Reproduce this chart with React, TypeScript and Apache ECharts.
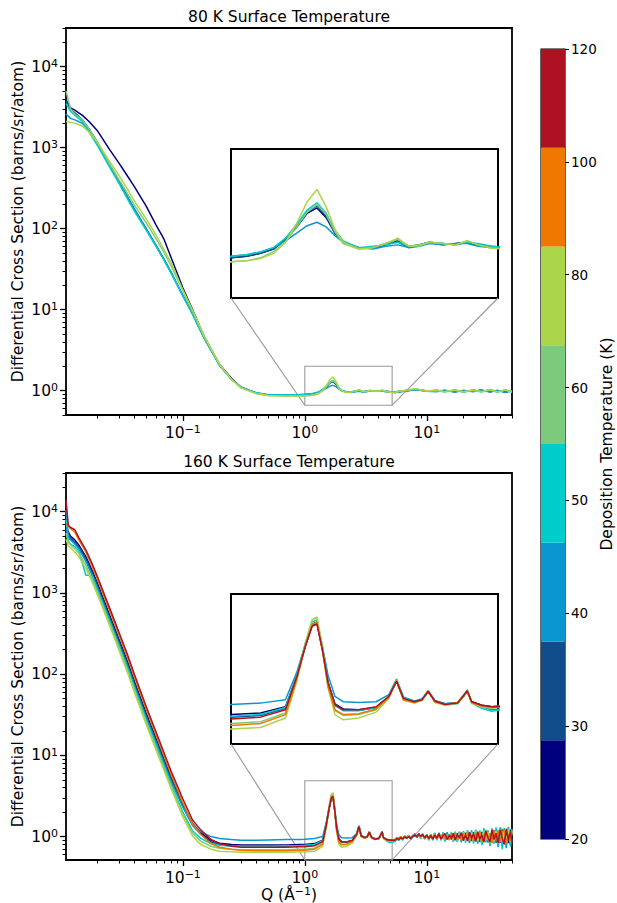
import React, { useEffect, useRef } from 'react';
import * as echarts from 'echarts';

// ---------------- data ----------------
const depositionTemps = [20, 30, 40, 50, 60, 80, 100, 120];
const tempColors = ['#00007f', '#114d8b', '#0a97cf', '#00cccc', '#7ccb7c', '#acd64a', '#f07800', '#ae1121'];
const colorbarTickLabels = ['20', '30', '40', '50', '60', '80', '100', '120'];

const topTitle = '80 K Surface Temperature';
const bottomTitle = '160 K Surface Temperature';
const yTitle = 'Differential Cross Section (barns/sr/atom)';
const cbTitle = 'Deposition Temperature (K)';

// Q grid, 80 K surface panel
const qTop = [
  0.011, 0.012, 0.013, 0.015, 0.017, 0.02, 0.025, 0.03, 0.035, 0.04,
  0.05, 0.06, 0.07, 0.08, 0.1, 0.12, 0.15, 0.2, 0.25, 0.3,
  0.4, 0.5, 0.7, 0.9, 1.0, 1.1, 1.2, 1.3, 1.4, 1.5,
  1.6, 1.7, 1.8, 1.9, 2.0, 2.2, 2.4, 2.6, 2.8, 3.0,
  3.2, 3.4, 3.7, 4.0, 4.3, 4.6, 5.0, 5.5, 6.0, 7.0,
  8.0, 9.0, 10, 12, 14, 17, 20, 24, 28, 33,
  38, 44, 50,
];
const top20K = [
  3900, 3100, 2900, 2500, 2100, 1600, 950, 640, 450, 330,
  190, 112, 74, 44, 18.5, 10, 4.6, 2.1, 1.42, 1.1,
  0.93, 0.88, 0.87, 0.88, 0.89, 0.9, 0.92, 0.95, 1.02, 1.12,
  1.24, 1.29, 1.2, 1.07, 1.0, 0.96, 0.96, 0.98, 1.01, 0.97,
  0.98, 1.0, 0.98, 0.99, 1.0, 0.98, 0.96, 0.95, 0.97, 1.0,
  1.04, 1.02, 0.99, 0.98, 1.0, 0.97, 1.0, 0.98, 1.01, 0.97,
  1.0, 0.96, 0.99,
];
const top30K = [
  3800, 3000, 2700, 2200, 1700, 1150, 620, 380, 250, 175,
  100, 63, 42, 29, 15, 8.9, 4.4, 2.05, 1.38, 1.1,
  0.93, 0.88, 0.87, 0.88, 0.89, 0.9, 0.92, 0.95, 1.02, 1.12,
  1.25, 1.31, 1.21, 1.07, 1.0, 0.96, 0.96, 0.99, 1.0, 0.96,
  0.98, 1.0, 0.99, 0.98, 1.0, 0.98, 0.97, 0.96, 0.98, 1.01,
  1.03, 1.01, 0.98, 1.0, 0.98, 1.0, 0.97, 1.01, 0.98, 1.0,
  0.97, 1.0, 0.98,
];
const top40K = [
  2600, 2300, 2200, 2000, 1600, 1100, 600, 370, 245, 170,
  98, 62, 41, 28.5, 14.8, 8.8, 4.4, 2.05, 1.38, 1.1,
  0.94, 0.89, 0.88, 0.89, 0.9, 0.91, 0.93, 0.96, 1.01, 1.07,
  1.13, 1.16, 1.12, 1.05, 1.0, 0.96, 0.95, 0.97, 0.98, 0.96,
  0.97, 0.99, 0.98, 0.99, 0.99, 0.97, 0.96, 0.95, 0.97, 0.99,
  1.03, 1.0, 0.98, 0.97, 1.01, 0.96, 1.0, 0.97, 1.02, 0.96,
  1.01, 0.95, 1.0,
];
const top50K = [
  3500, 2800, 2500, 2100, 1550, 1050, 580, 360, 235, 165,
  96, 61, 41, 28.5, 14.8, 8.8, 4.4, 2.05, 1.38, 1.1,
  0.94, 0.89, 0.88, 0.89, 0.9, 0.91, 0.93, 0.96, 1.03, 1.14,
  1.27, 1.34, 1.24, 1.09, 1.01, 0.96, 0.97, 0.98, 1.0, 0.97,
  0.98, 1.0, 0.99, 0.98, 1.0, 0.99, 0.97, 0.96, 0.99, 1.0,
  1.04, 1.02, 0.98, 1.01, 0.97, 1.02, 0.96, 1.01, 0.97, 1.03,
  0.96, 1.02, 0.97,
];
const top60K = [
  5000, 3000, 2600, 2200, 1700, 1150, 630, 400, 275, 195,
  118, 76, 51, 35, 17, 9.6, 4.6, 2.08, 1.38, 1.08,
  0.92, 0.87, 0.86, 0.86, 0.865, 0.87, 0.89, 0.93, 1.0, 1.12,
  1.25, 1.32, 1.23, 1.08, 0.99, 0.95, 0.96, 0.99, 1.02, 0.97,
  0.97, 1.0, 0.99, 0.98, 1.01, 0.98, 0.96, 0.95, 0.98, 1.01,
  1.05, 1.02, 0.99, 1.0, 0.97, 1.01, 0.97, 1.02, 0.96, 1.02,
  0.97, 1.01, 0.96,
];
const top80K = [
  2100, 2050, 2000, 1850, 1550, 1150, 680, 450, 310, 220,
  132, 84, 55, 38, 17.5, 9.8, 4.7, 2.1, 1.38, 1.08,
  0.92, 0.87, 0.86, 0.86, 0.865, 0.87, 0.885, 0.92, 1.0, 1.15,
  1.35, 1.48, 1.3, 1.1, 1.0, 0.95, 0.96, 0.99, 1.03, 0.97,
  0.98, 1.0, 0.99, 0.98, 1.01, 0.98, 0.955, 0.95, 0.98, 1.02,
  1.06, 1.02, 0.99, 1.01, 0.97, 1.02, 0.97, 1.01, 0.97, 1.03,
  0.96, 1.02, 0.97,
];

// Q grid, 160 K surface panel (up to 5 A^-1), then the noisy high-Q tail
const qBot = [
  0.011, 0.0115, 0.012, 0.013, 0.014, 0.016, 0.018, 0.02, 0.025, 0.03,
  0.035, 0.04, 0.05, 0.06, 0.07, 0.08, 0.1, 0.12, 0.14, 0.17,
  0.2, 0.25, 0.3, 0.4, 0.5, 0.7, 0.9, 1.0, 1.2, 1.4,
  1.5, 1.58, 1.65, 1.7, 1.76, 1.82, 1.9, 2.0, 2.2, 2.45,
  2.65, 2.78, 2.9, 3.1, 3.25, 3.38, 3.52, 3.75, 4.05, 4.2,
  4.3, 4.42, 4.7, 5.0,
];
const qBotTail = [
  5.5, 5.7, 5.9, 6.1, 6.35, 6.6, 6.85, 7.1, 7.4, 7.7,
  8.0, 8.3, 8.6, 8.9, 9.25, 9.6, 10, 10.4, 10.8, 11.2,
  11.6, 12.1, 12.6, 13.1, 13.6, 14.1, 14.7, 15.3, 15.9, 16.5,
  17.1, 17.8, 18.5, 19.2, 20, 20.8, 21.6, 22.4, 23.3, 24.2,
  25.2, 26.2, 27.2, 28.3, 29.4, 30.5, 31.7, 33, 34.3, 35.6,
  37, 38.5, 40, 41.6, 43.2, 44.9, 46.7, 48.5, 50,
];

const bot20K = [
  7000, 5600, 5000, 4500, 3900, 2800, 1900, 1300, 540, 265,
  145, 82, 33, 16.5, 9.0, 5.4, 2.5, 1.45, 1.12, 0.9,
  0.83, 0.8, 0.79, 0.79, 0.79, 0.79, 0.8, 0.8, 0.82, 0.9,
  1.42, 2.2, 3.05, 3.15, 2.1, 1.3, 0.94, 0.87, 0.86, 0.89,
  1.04, 1.33, 1.01, 0.97, 1.0, 1.13, 0.98, 0.94, 0.95, 1.05,
  1.14, 0.97, 0.92, 0.9,
];
const bot20KTail = [
  0.92, 0.96, 0.93, 0.99, 0.95, 1.0, 0.97, 1.02, 0.96, 1.0,
  1.04, 1.01, 1.07, 0.99, 1.05, 0.96, 1.03, 0.96, 1.04, 0.94,
  1.06, 0.95, 1.05, 0.94, 1.08, 0.95, 1.06, 0.93, 1.07, 0.94,
  1.09, 0.9, 1.08, 0.95, 1.12, 0.9, 1.06, 0.89, 1.11, 0.94,
  1.14, 0.88, 1.06, 0.91, 1.17, 0.87, 1.12, 0.93, 0.85, 1.18,
  0.89, 1.13, 0.84, 1.21, 0.92, 1.17, 0.83, 1.22, 0.9,
];
const bot30K = [
  6000, 5200, 4700, 4200, 3700, 2650, 1800, 1220, 510, 250,
  137, 78, 31, 15.5, 8.5, 5.1, 2.35, 1.38, 1.07, 0.86,
  0.8, 0.77, 0.76, 0.76, 0.76, 0.76, 0.77, 0.77, 0.79, 0.88,
  1.4, 2.2, 3.05, 3.2, 2.1, 1.28, 0.92, 0.85, 0.85, 0.89,
  1.04, 1.32, 1.01, 0.97, 1.0, 1.13, 0.98, 0.93, 0.95, 1.05,
  1.13, 0.97, 0.92, 0.9,
];
const bot30KTail = [
  0.91, 0.97, 0.94, 0.98, 0.93, 1.01, 0.96, 1.0, 0.98, 1.02,
  1.04, 0.98, 1.06, 1.0, 1.04, 0.97, 1.05, 0.95, 1.02, 0.94,
  1.04, 0.97, 1.09, 0.94, 1.03, 1.07, 0.93, 1.05, 0.92, 1.08,
  0.92, 1.1, 0.95, 1.07, 0.89, 1.12, 0.93, 1.06, 0.88, 1.13,
  0.91, 1.09, 0.86, 1.14, 0.95, 1.18, 0.85, 1.07, 0.9, 1.2,
  0.84, 1.12, 0.92, 1.23, 0.83, 1.1, 0.88, 1.18, 0.86,
];
const bot40K = [
  10500, 4800, 4500, 4000, 3500, 2450, 1650, 1120, 470, 232,
  127, 72, 29, 14.5, 8.0, 4.8, 2.3, 1.4, 1.15, 1.0,
  0.95, 0.92, 0.9, 0.9, 0.91, 0.92, 0.92, 0.93, 0.95, 1.0,
  1.5, 2.25, 3.1, 3.2, 2.2, 1.45, 1.05, 0.97, 0.96, 0.97,
  1.08, 1.36, 1.04, 0.98, 1.01, 1.15, 0.99, 0.94, 0.96, 1.07,
  1.15, 0.96, 0.9, 0.86,
];
const bot40KTail = [
  0.88, 0.94, 0.9, 0.98, 0.92, 1.0, 0.94, 1.03, 0.93, 1.04,
  1.08, 0.97, 1.1, 0.96, 1.07, 0.93, 1.06, 0.91, 1.08, 0.9,
  1.1, 0.92, 1.12, 0.9, 1.06, 0.88, 1.13, 0.92, 1.1, 0.87,
  1.15, 0.88, 1.12, 0.85, 1.17, 0.9, 1.1, 0.83, 1.19, 0.86,
  1.2, 0.82, 1.14, 0.8, 1.24, 0.88, 1.18, 0.78, 1.26, 0.84,
  1.2, 0.74, 1.3, 0.8, 1.22, 0.72, 1.28, 0.79, 1.25,
];
const bot50K = [
  8000, 4300, 4000, 3700, 3300, 1650, 1650, 1060, 450, 220,
  120, 68, 27, 13.4, 7.3, 4.4, 2.0, 1.18, 0.95, 0.82,
  0.78, 0.76, 0.76, 0.76, 0.76, 0.77, 0.77, 0.78, 0.8, 0.89,
  1.42, 2.3, 3.2, 3.3, 2.15, 1.3, 0.93, 0.85, 0.85, 0.89,
  1.05, 1.36, 1.03, 0.97, 1.0, 1.15, 0.97, 0.93, 0.94, 1.06,
  1.16, 0.95, 0.88, 0.84,
];
const bot50KTail = [
  0.87, 0.95, 0.91, 0.97, 0.9, 1.01, 0.95, 1.04, 0.92, 1.02,
  1.09, 0.98, 1.08, 0.95, 1.09, 0.94, 1.05, 0.9, 1.07, 0.92,
  1.12, 0.9, 1.09, 0.91, 1.13, 0.87, 1.08, 0.93, 1.14, 0.88,
  1.12, 0.86, 1.16, 0.89, 1.13, 0.84, 1.2, 0.9, 1.15, 0.82,
  1.22, 0.86, 1.19, 0.79, 1.27, 0.85, 1.2, 0.76, 1.24, 0.81,
  1.3, 0.77, 1.22, 0.7, 1.27, 0.8, 1.32, 0.75, 1.22,
];
const bot60K = [
  5500, 4200, 3900, 3500, 3100, 2200, 1480, 1010, 430, 210,
  115, 65, 26, 12.8, 7.0, 4.2, 1.9, 1.1, 0.88, 0.76,
  0.72, 0.7, 0.69, 0.69, 0.69, 0.69, 0.7, 0.7, 0.72, 0.82,
  1.38, 2.3, 3.3, 3.45, 2.2, 1.25, 0.85, 0.79, 0.8, 0.86,
  1.03, 1.34, 1.0, 0.96, 0.99, 1.14, 0.97, 0.92, 0.95, 1.05,
  1.14, 0.96, 0.91, 0.88,
];
const bot60KTail = [
  0.92, 0.96, 0.94, 0.99, 0.95, 1.02, 0.96, 1.01, 0.97, 1.03,
  1.05, 0.99, 1.06, 0.98, 1.05, 0.96, 1.04, 0.94, 1.06, 0.95,
  1.05, 0.94, 1.07, 0.95, 1.09, 0.93, 1.05, 0.94, 1.09, 0.91,
  1.07, 0.92, 1.11, 0.9, 1.08, 0.96, 1.13, 0.89, 1.09, 0.9,
  1.15, 0.9, 1.08, 0.86, 1.16, 0.91, 1.13, 0.85, 1.19, 0.89,
  1.16, 0.84, 1.22, 0.88, 1.18, 0.83, 1.2, 0.9, 1.17,
];
const bot80K = [
  4600, 3800, 3600, 3200, 2800, 2000, 1380, 940, 400, 195,
  106, 60, 24, 11.8, 6.5, 3.9, 1.75, 1.02, 0.8, 0.7,
  0.66, 0.65, 0.64, 0.64, 0.64, 0.64, 0.645, 0.645, 0.66, 0.76,
  1.3, 2.25, 3.3, 3.45, 2.15, 1.2, 0.8, 0.74, 0.76, 0.83,
  1.02, 1.33, 0.99, 0.95, 0.99, 1.14, 0.96, 0.92, 0.95, 1.05,
  1.14, 0.95, 0.9, 0.88,
];
const bot80KTail = [
  0.91, 0.96, 0.93, 0.98, 0.96, 1.0, 0.95, 1.02, 0.96, 1.02,
  1.06, 1.0, 1.06, 0.97, 1.06, 0.97, 1.03, 0.95, 1.04, 0.93,
  1.07, 0.95, 1.06, 0.92, 1.1, 0.95, 1.04, 0.91, 1.08, 0.93,
  1.12, 0.9, 1.07, 0.93, 1.14, 0.88, 1.08, 0.91, 1.12, 0.87,
  1.17, 0.89, 1.1, 0.85, 1.18, 0.92, 1.14, 0.84, 1.2, 0.88,
  1.16, 0.82, 1.24, 0.87, 1.19, 0.84, 1.23, 0.86, 1.2,
];
const bot100K = [
  7000, 6600, 6200, 5600, 4500, 3200, 2150, 1450, 610, 300,
  163, 92, 37, 18, 9.8, 5.8, 2.6, 1.42, 1.06, 0.82,
  0.74, 0.7, 0.68, 0.67, 0.67, 0.67, 0.68, 0.68, 0.7, 0.8,
  1.35, 2.2, 3.1, 3.2, 2.05, 1.22, 0.86, 0.8, 0.81, 0.87,
  1.03, 1.33, 1.0, 0.96, 0.99, 1.14, 0.97, 0.93, 0.96, 1.05,
  1.15, 0.96, 0.91, 0.89,
];
const bot100KTail = [
  0.93, 0.97, 0.94, 1.0, 0.96, 1.02, 0.95, 0.99, 0.97, 1.03,
  1.06, 1.0, 1.05, 0.98, 1.07, 0.96, 1.02, 0.94, 1.05, 0.95,
  1.03, 0.93, 1.07, 0.97, 1.1, 0.94, 1.03, 0.91, 1.08, 0.96,
  1.11, 0.92, 1.03, 0.89, 1.1, 0.97, 1.14, 0.9, 1.05, 0.88,
  1.12, 0.95, 1.16, 0.86, 1.03, 1.18, 0.88, 1.1, 0.84, 1.19,
  0.9, 1.21, 0.86, 1.12, 1.24, 0.82, 1.08, 0.87, 1.2,
];
const bot120K = [
  14000, 6800, 6400, 6000, 4800, 3400, 2300, 1560, 660, 324,
  177, 100, 40, 19.7, 10.8, 6.4, 2.9, 1.6, 1.21, 0.92,
  0.82, 0.76, 0.74, 0.74, 0.74, 0.74, 0.75, 0.75, 0.77, 0.86,
  1.4, 2.2, 3.0, 3.1, 2.1, 1.3, 0.93, 0.86, 0.86, 0.9,
  1.05, 1.32, 1.02, 0.97, 1.0, 1.13, 0.98, 0.93, 0.95, 1.06,
  1.14, 0.97, 0.92, 0.9,
];
const bot120KTail = [
  0.9, 0.95, 0.92, 0.97, 0.94, 0.99, 0.96, 1.0, 0.95, 1.01,
  1.05, 0.99, 1.08, 1.01, 1.06, 0.97, 1.04, 0.95, 1.03, 0.93,
  1.05, 0.96, 1.08, 0.93, 1.02, 1.09, 0.92, 1.04, 0.95, 1.1,
  0.9, 1.06, 0.97, 1.12, 0.91, 1.04, 0.88, 1.13, 0.96, 1.08,
  0.87, 1.15, 0.93, 1.05, 0.85, 1.17, 0.98, 0.86, 1.2, 0.92,
  1.1, 0.83, 1.22, 0.95, 0.8, 1.25, 0.9, 1.15, 0.85,
];

const topSets = [
  { temp: 20, vals: top20K }, { temp: 30, vals: top30K }, { temp: 40, vals: top40K },
  { temp: 50, vals: top50K }, { temp: 60, vals: top60K }, { temp: 80, vals: top80K },
];
const botSets = [
  { temp: 20, vals: bot20K, tail: bot20KTail }, { temp: 30, vals: bot30K, tail: bot30KTail },
  { temp: 40, vals: bot40K, tail: bot40KTail }, { temp: 50, vals: bot50K, tail: bot50KTail },
  { temp: 60, vals: bot60K, tail: bot60KTail }, { temp: 80, vals: bot80K, tail: bot80KTail },
  { temp: 100, vals: bot100K, tail: bot100KTail }, { temp: 120, vals: bot120K, tail: bot120KTail },
];

// axis ranges
const mainXRange = [0.011, 50];
const topYRange = [0.5, 30000];
const botYRange = [0.515, 30000];
const insetXRange = [1, 5.2];
const topInsetYRange = [0.66, 2.0];
const botInsetYRange = [0.515, 4.87];

const xMajorTicks = [0.1, 1, 10];
const yMajorTicks = [1, 10, 100, 1000, 10000];
const minorMantissas = [2, 3, 4, 5, 6, 7, 8, 9];
const xMinorTicks: number[] = [];
[0.01, 0.1, 1, 10].forEach((d) => minorMantissas.forEach((m) => xMinorTicks.push(+(d * m).toPrecision(3))));
const yMinorTicks: number[] = [];
[0.1, 1, 10, 100, 1000, 10000].forEach((d) => minorMantissas.forEach((m) => yMinorTicks.push(+(d * m).toPrecision(3))));

// ---------------- styling ----------------
const FONT = 'DejaVu Sans';
const LABEL_SIZE = 15.5;

const supRich = {
  b: { fontSize: LABEL_SIZE, fontFamily: FONT, color: '#000', lineHeight: 17 },
  s: { fontSize: 11, fontFamily: FONT, color: '#000', lineHeight: 9, verticalAlign: 'top' },
};
function powLabel(v: number) {
  const e = Math.round(Math.log10(v));
  const es = e < 0 ? '\u2212' + -e : String(e);
  return `{b|10}{s|${es}}`;
}
const colorOf = (t: number) => tempColors[depositionTemps.indexOf(t)];

function logAxis(grid: number, range: number[], kind: 'major' | 'minor' | 'hidden', dim: 'x' | 'y', extra: any = {}) {
  const majors = dim === 'x' ? xMajorTicks : yMajorTicks;
  const minors = dim === 'x' ? xMinorTicks : yMinorTicks;
  const base: any = {
    type: 'log', logBase: 10, gridIndex: grid, min: range[0], max: range[1],
    position: dim === 'x' ? 'bottom' : 'left',
    axisLine: { show: false },
    splitLine: { show: false },
    minorTick: { show: false },
    minorSplitLine: { show: false },
  };
  if (kind === 'hidden') return { ...base, show: false };
  if (kind === 'minor') {
    return {
      ...base,
      axisTick: { show: true, customValues: minors, length: 3.5, lineStyle: { color: '#000', width: 1 } },
      axisLabel: { show: false },
    };
  }
  return {
    ...base,
    axisTick: { show: true, customValues: majors, length: 6, lineStyle: { color: '#000', width: 1.3 } },
    axisLabel: {
      show: true, customValues: majors, formatter: powLabel, rich: supRich,
      margin: dim === 'x' ? 9 : 8, color: '#000',
    },
    ...extra,
  };
}

function lineSeries(q: number[], vals: number[], color: string, xi: number, yi: number) {
  return {
    type: 'line', xAxisIndex: xi, yAxisIndex: yi,
    data: q.map((x, i) => [x, vals[i]]),
    showSymbol: false, symbol: 'none', clip: true, silent: true,
    lineStyle: { color, width: 1.5 }, itemStyle: { color },
    emphasis: { disabled: true }, z: 3,
  };
}

function buildOption() {
  const gridBase = { show: true, borderColor: '#000', containLabel: false, outerBoundsMode: 'none' };
  const grid = [
    { ...gridBase, left: 66, top: 28, width: 446, height: 387, borderWidth: 1.8 },
    { ...gridBase, left: 231, top: 149, width: 267, height: 149, borderWidth: 2, backgroundColor: '#fff' },
    { ...gridBase, left: 66, top: 473, width: 446, height: 387, borderWidth: 1.8 },
    { ...gridBase, left: 231, top: 594, width: 267, height: 150, borderWidth: 2, backgroundColor: '#fff' },
    { ...gridBase, left: 541, top: 49, width: 24, height: 790, borderWidth: 1.2 },
  ];
  const yName = {
    name: yTitle, nameLocation: 'middle', nameGap: 40, nameMoveOverlap: false,
    nameTextStyle: { fontSize: LABEL_SIZE, fontFamily: FONT, color: '#000' },
  };
  const xAxis = [
    logAxis(0, mainXRange, 'major', 'x'),
    logAxis(0, mainXRange, 'minor', 'x'),
    logAxis(1, insetXRange, 'hidden', 'x'),
    logAxis(2, mainXRange, 'major', 'x', {
      name: '{a|Q (\u00c5}{s|\u22121}{a|)}', nameLocation: 'middle', nameGap: 26, nameMoveOverlap: false,
      nameTextStyle: {
        rich: {
          a: { fontSize: LABEL_SIZE, fontFamily: FONT, color: '#000', lineHeight: 17 },
          s: { fontSize: 11, fontFamily: FONT, color: '#000', lineHeight: 9, verticalAlign: 'top' },
        },
      },
    }),
    logAxis(2, mainXRange, 'minor', 'x'),
    logAxis(3, insetXRange, 'hidden', 'x'),
    { type: 'category', gridIndex: 4, data: ['cb'], show: false, boundaryGap: true },
  ];
  const yAxis = [
    logAxis(0, topYRange, 'major', 'y', yName),
    logAxis(0, topYRange, 'minor', 'y'),
    logAxis(1, topInsetYRange, 'hidden', 'y'),
    logAxis(2, botYRange, 'major', 'y', yName),
    logAxis(2, botYRange, 'minor', 'y'),
    logAxis(3, botInsetYRange, 'hidden', 'y'),
    { type: 'value', gridIndex: 4, min: 0, max: depositionTemps.length, show: false },
    {
      type: 'value', gridIndex: 4, min: 0, max: colorbarTickLabels.length - 1, interval: 1, position: 'right',
      axisLine: { show: false }, splitLine: { show: false },
      axisTick: { show: true, length: 4, lineStyle: { color: '#000', width: 1.1 } },
      axisLabel: {
        formatter: (v: number) => colorbarTickLabels[Math.round(v)], color: '#000',
        fontSize: 13.5, fontFamily: FONT, margin: 6,
      },
      name: cbTitle, nameLocation: 'middle', nameGap: 34, nameMoveOverlap: false,
      nameTextStyle: { fontSize: LABEL_SIZE, fontFamily: FONT, color: '#000' },
    },
  ];
  const series: any[] = [];
  topSets.forEach((s) => series.push(lineSeries(qTop, s.vals, colorOf(s.temp), 0, 0)));
  topSets.forEach((s) => series.push(lineSeries(qTop, s.vals, colorOf(s.temp), 2, 2)));
  const qBotAll = qBot.concat(qBotTail);
  botSets.forEach((s) => series.push(lineSeries(qBotAll, s.vals.concat(s.tail), colorOf(s.temp), 3, 3)));
  botSets.forEach((s) => series.push(lineSeries(qBotAll, s.vals.concat(s.tail), colorOf(s.temp), 5, 5)));
  depositionTemps.forEach((t) =>
    series.push({
      type: 'bar', xAxisIndex: 6, yAxisIndex: 6, stack: 'cb', data: [1], barWidth: '100%',
      itemStyle: { color: colorOf(t) }, silent: true, emphasis: { disabled: true },
    }),
  );
  return {
    animation: false,
    textStyle: { fontFamily: FONT },
    grid, xAxis, yAxis, series,
  };
}

export default function App() {
  const ref = useRef<HTMLDivElement>(null);
  useEffect(() => {
    document.body.style.margin = '0';
    if (!ref.current) return;
    const chart = echarts.init(ref.current, undefined, { renderer: 'svg' });
    chart.setOption(buildOption());

    const px = (xi: number, yi: number, pt: number[]) =>
      chart.convertToPixel({ xAxisIndex: xi, yAxisIndex: yi } as any, pt) as unknown as number[];
    const zoomMarks = (mx: number, my: number, ix: number, iy: number, yr: number[]) => {
      const a = px(mx, my, [insetXRange[0], yr[1]]);
      const b = px(mx, my, [insetXRange[1], yr[0]]);
      const c = px(ix, iy, [insetXRange[0], yr[0]]);
      const d = px(ix, iy, [insetXRange[1], yr[0]]);
      const st = { stroke: '#999', lineWidth: 1.1, fill: 'transparent' };
      return [
        { type: 'rect', z: 1, silent: true, shape: { x: a[0], y: a[1], width: b[0] - a[0], height: b[1] - a[1] }, style: st },
        { type: 'line', z: 1, silent: true, shape: { x1: c[0], y1: c[1], x2: a[0], y2: b[1] }, style: st },
        { type: 'line', z: 1, silent: true, shape: { x1: d[0], y1: d[1], x2: b[0], y2: b[1] }, style: st },
      ];
    };
    const titleText = (text: string, x: number, y: number) => ({
      type: 'text', x, y, silent: true,
      style: {
        text, fill: '#000', font: `${LABEL_SIZE}px "${FONT}"`,
        align: 'center', verticalAlign: 'middle', textAlign: 'center', textVerticalAlign: 'middle',
      },
    });
    const topC = px(0, 0, [mainXRange[0], topYRange[1]]);
    const topR = px(0, 0, [mainXRange[1], topYRange[1]]);
    const botC = px(3, 3, [mainXRange[0], botYRange[1]]);
    chart.setOption({
      graphic: [
        ...zoomMarks(0, 0, 2, 2, topInsetYRange),
        ...zoomMarks(3, 3, 5, 5, botInsetYRange),
        titleText(topTitle, (topC[0] + topR[0]) / 2, topC[1] - 11),
        titleText(bottomTitle, (topC[0] + topR[0]) / 2, botC[1] - 11),
      ],
    });
    return () => chart.dispose();
  }, []);
  return <div ref={ref} style={{ width: 617, height: 903 }} />;
}
